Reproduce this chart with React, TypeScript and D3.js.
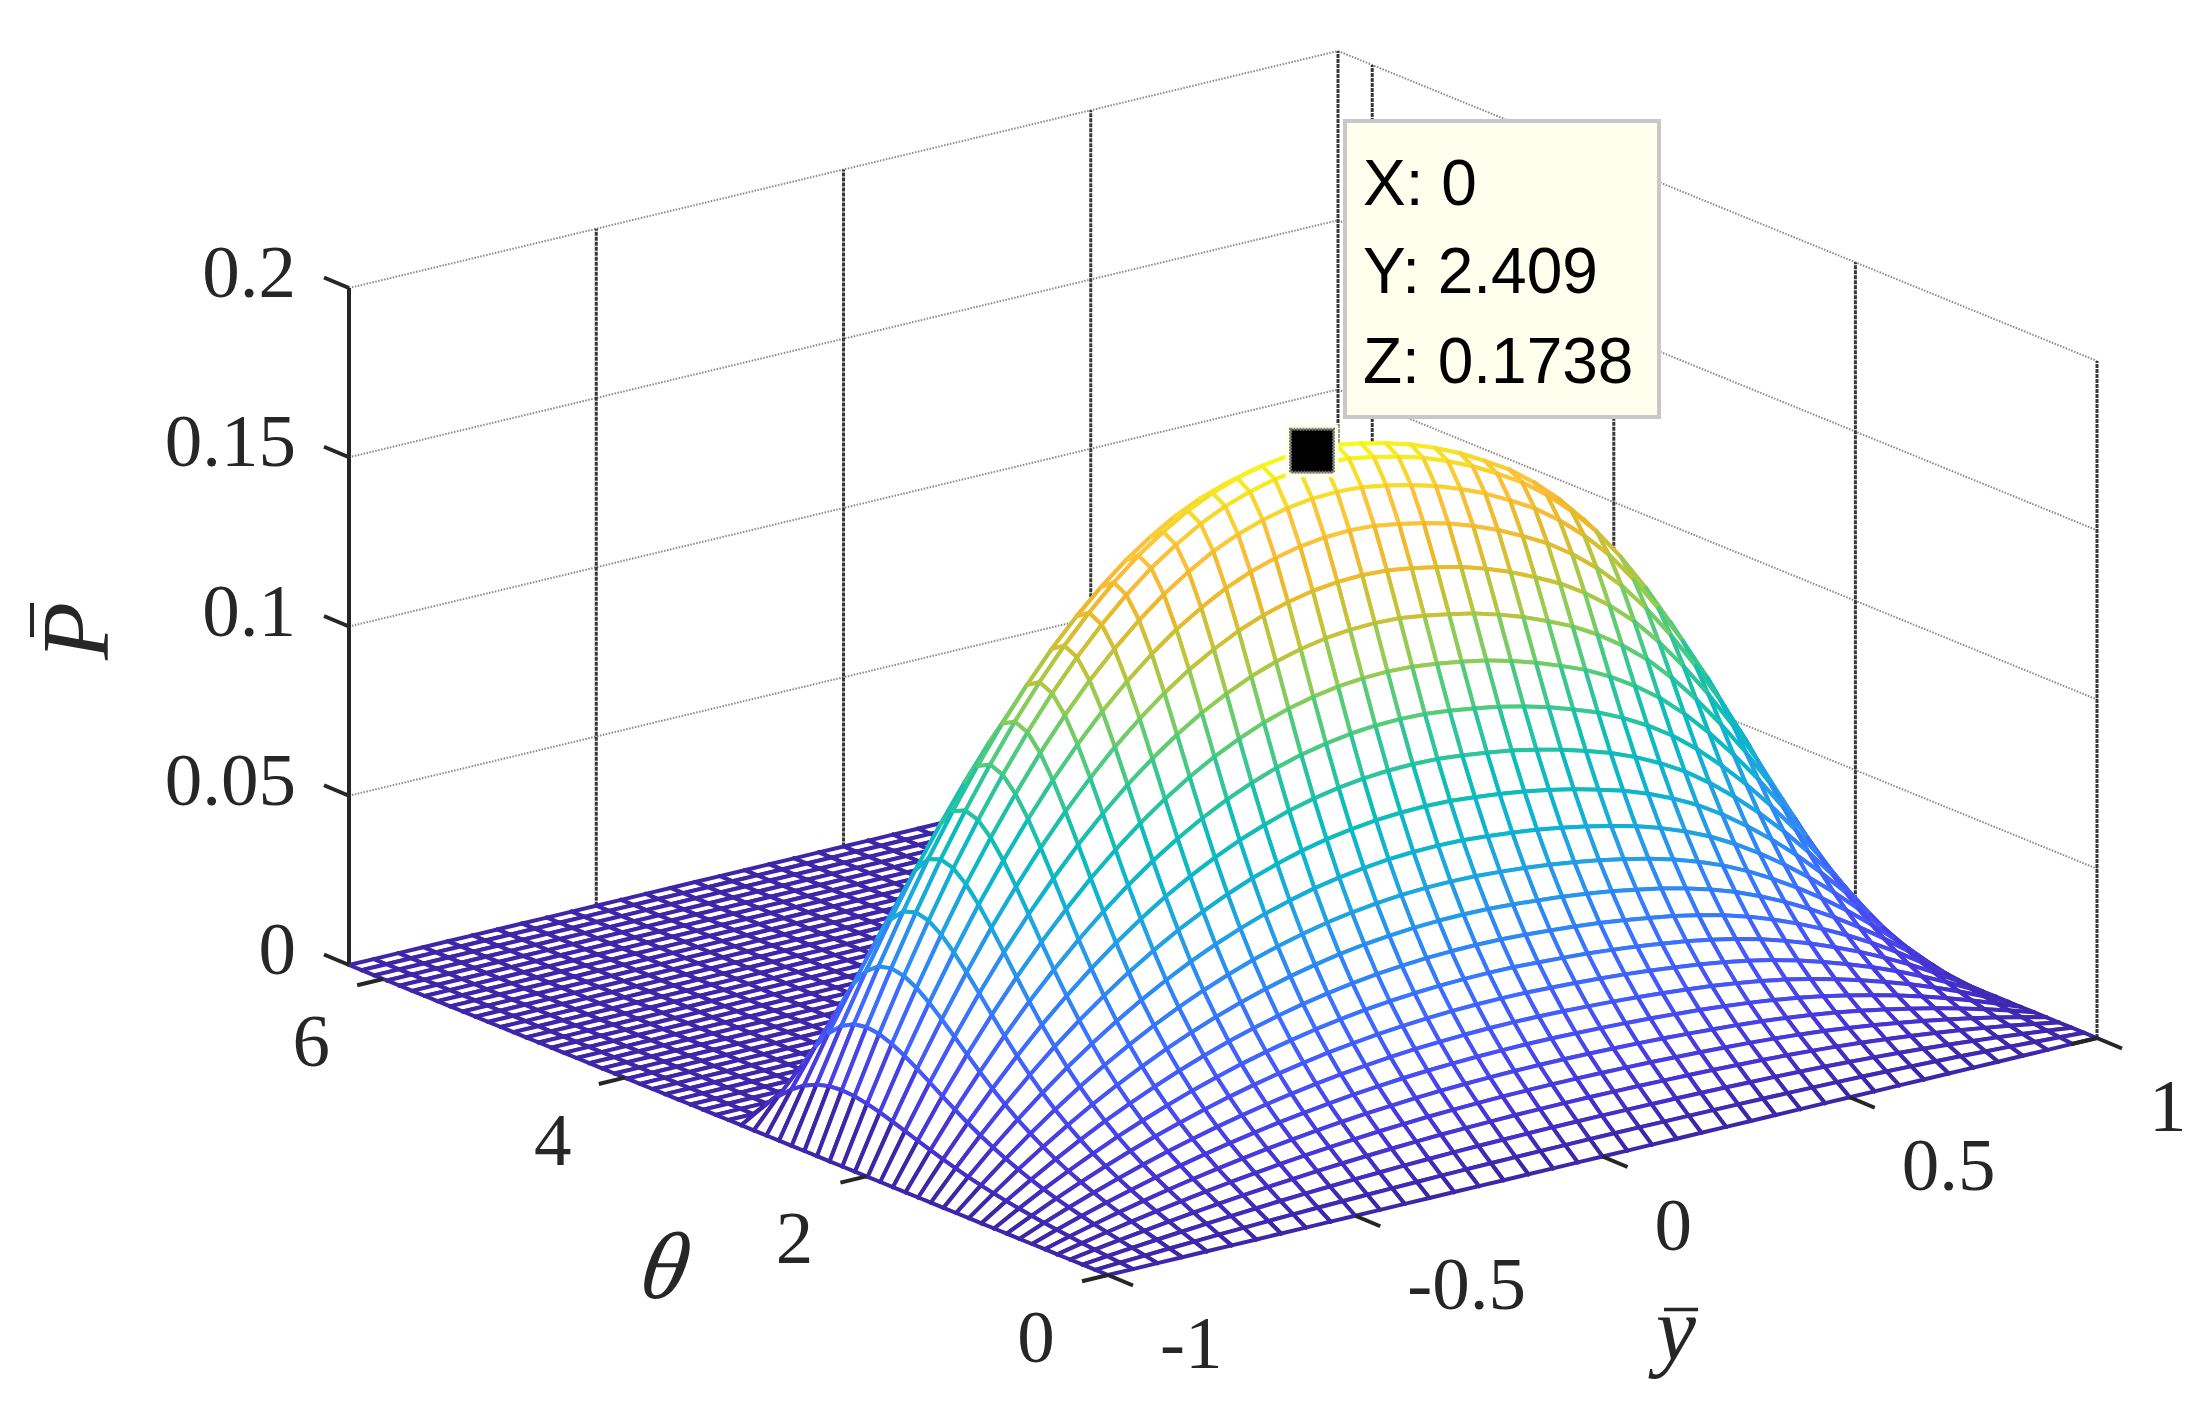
import React, { useEffect, useRef } from "react";
import * as d3 from "d3";

const W = 2211, H = 1422;

const yValues = d3.range(41).map((i) => -1 + i * 0.05);
const thetaStep = Math.PI / 30;
const thetaCount = 61;
// relative pressure across the bearing width, y = -1 .. 1 step 0.05
const yProfile = [0, .102, .199, .289, .374, .454, .527, .595, .658, .715, .767, .813, .854, .89, .92, .946, .966, .981, .992, .998, 1,
  .9975, .99, .98, .968, .952, .933, .91, .885, .853, .815, .77, .715, .652, .582, .505, .42, .327, .226, .117, 0];
// P along y = 0 for theta = 0 .. pi, step pi/30 (zero beyond)
const thetaProfile = [0, .0036, .0073, .0112, .0152, .0194, .024, .029, .0345, .0405, .0472, .0547, .0629, .072, .0821, .093, .1048, .1173,
  .1301, .1427, .1544, .1643, .1713, .1738, .1705, .1601, .1419, .1155, .0818, .0424, 0];
const zTicks = [0, 0.05, 0.1, 0.15, 0.2];
const zTickLabels = ["0", "0.05", "0.1", "0.15", "0.2"];
const yTicks = [-1, -0.5, 0, 0.5, 1];
const yTickLabels = ["-1", "-0.5", "0", "0.5", "1"];
const thetaTicks = [0, 2, 4, 6];
const thetaTickLabels = ["0", "2", "4", "6"];
const dataTipLines = ["X: 0", "Y: 2.409", "Z: 0.1738"];
const tipPoint = { y: 0, theta: 2.409, z: 0.1738 };
const parulaStops = ["#3e26a8", "#4836d8", "#4750f5", "#3e6cff", "#2f87f6", "#24a0e4", "#0eb4d0", "#0dbdb8", "#2fc59a", "#55cc78", "#91cc55", "#c4c338", "#ecb92a", "#fdbd3c", "#f6d92d", "#f9fb15"];

// orthographic projection of the axes box
const front = [1108, 1275], right = [2097, 1038], left = [349, 965];
const zPixels = 677;
const yX = d3.scaleLinear().domain([-1, 1]).range([0, right[0] - front[0]]);
const yY = d3.scaleLinear().domain([-1, 1]).range([0, right[1] - front[1]]);
const tX = d3.scaleLinear().domain([0, 2 * Math.PI]).range([0, left[0] - front[0]]);
const tY = d3.scaleLinear().domain([0, 2 * Math.PI]).range([0, left[1] - front[1]]);
const zS = d3.scaleLinear().domain([0, 0.2]).range([0, zPixels]);
const project = (y: number, t: number, z: number): [number, number] => [
  front[0] + yX(y) + tX(t),
  front[1] + yY(y) + tY(t) - zS(z),
];
const colour = d3.scaleLinear<string>()
  .domain(parulaStops.map((_, i) => (i / (parulaStops.length - 1)) * 0.1738))
  .range(parulaStops).interpolate(d3.interpolateRgb).clamp(true);

const zAt = (i: number, j: number) => yProfile[i] * (j < thetaProfile.length ? thetaProfile[j] : 0);
const line = d3.line();

export default function App() {
  const ref = useRef<SVGGElement>(null);
  useEffect(() => {
    const g = d3.select(ref.current);
    g.selectAll("*").remove();
    const P = (i: number, j: number) => project(yValues[i], j * thetaStep, zAt(i, j));
    for (let i = yValues.length - 2; i >= 0; i--) {
      for (let j = thetaCount - 2; j >= 0; j--) {
        const a = P(i, j), b = P(i + 1, j), c = P(i + 1, j + 1), d = P(i, j + 1);
        g.append("path").attr("d", line([a, b, c, d]) + "Z").attr("fill", "#fff").attr("stroke", "none");
        const seg = (p: [number, number], q: [number, number], v: number) =>
          g.append("path").attr("d", line([p, q])).attr("stroke", colour(v)).attr("stroke-width", 4).attr("fill", "none").attr("stroke-linecap", "round");
        seg(d, c, zAt(i, j + 1));
        seg(b, c, zAt(i + 1, j));
        seg(a, d, zAt(i, j));
        seg(a, b, zAt(i, j));
      }
    }
  }, []);

  const tMax = 2 * Math.PI;
  const serif = "'Liberation Serif', serif";
  const sans = "'Liberation Sans', sans-serif";
  const ink = "#262626";
  const tip = project(tipPoint.y, tipPoint.theta, tipPoint.z);
  const gridLight = { stroke: "#8a8a8a", strokeWidth: 2, strokeDasharray: "1.5 1.5", fill: "none" };
  const gridDark = { stroke: "#383838", strokeWidth: 3, strokeDasharray: "4 1", fill: "none" };
  const L = (p: [number, number], q: [number, number], s: any, k: string) => (
    <line key={k} x1={p[0]} y1={p[1]} x2={q[0]} y2={q[1]} {...s} />
  );
  return (
    <svg width={W} height={H} viewBox={`0 0 ${W} ${H}`} style={{ position: "absolute", left: 0, top: 0, background: "#fff" }}>
      {zTicks.slice(1).map((z) => (
        <g key={z}>
          {L(project(-1, tMax, z), project(1, tMax, z), gridLight, "a")}
          {L(project(1, tMax, z), project(1, 0, z), gridLight, "b")}
        </g>
      ))}
      {yTicks.slice(1).map((y) => L(project(y, tMax, 0), project(y, tMax, 0.2), gridDark, `gy${y}`))}
      {thetaTicks.map((t) => L(project(1, t, 0), project(1, t, 0.2), gridDark, `gt${t}`))}
      {L(project(-1, tMax, 0), project(-1, tMax, 0.2), { stroke: ink, strokeWidth: 4 }, "zaxis")}

      <g ref={ref} />

      {zTicks.map((z, i) => {
        const p = project(-1, tMax, z);
        return (
          <g key={z}>
            {L(p, [p[0] - 25, p[1] - 10.5], { stroke: ink, strokeWidth: 4 }, "t")}
            <text x={296} y={p[1] + 9} textAnchor="end" fontFamily={serif} fontSize={75} fill={ink}>{zTickLabels[i]}</text>
          </g>
        );
      })}
      {yTicks.map((y, i) => {
        const p = project(y, 0, 0);
        return (
          <g key={y}>
            {L(p, [p[0] + 25, p[1] + 10.5], { stroke: ink, strokeWidth: 4 }, "t")}
            <text x={p[0] + 52} y={p[1] + 93} fontFamily={serif} fontSize={75} fill={ink}>{yTickLabels[i]}</text>
          </g>
        );
      })}
      {thetaTicks.map((t, i) => {
        const p = project(-1, t, 0);
        const q = project(1, t, 0);
        return (
          <g key={t}>
            {L(p, [p[0] - 26, p[1] + 6.3], { stroke: ink, strokeWidth: 4 }, "t")}
            {L(q, [q[0] - 26, q[1] + 6.3], { stroke: ink, strokeWidth: 4, opacity: i === 0 ? 1 : 0 }, "u")}
            <text x={p[0] - 72} y={p[1] + 87} textAnchor="middle" fontFamily={serif} fontSize={75} fill={ink}>{thetaTickLabels[i]}</text>
          </g>
        );
      })}

      <text transform="translate(660,1298) skewX(-10)" textAnchor="middle" fontFamily={serif} fontStyle="italic" fontSize={95} fill={ink}>θ</text>
      <text x={1676} y={1360} textAnchor="middle" fontFamily={serif} fontStyle="italic" fontSize={90} fill={ink}>y</text>
      <line x1={1664} x2={1698} y1={1309.5} y2={1309.5} stroke={ink} strokeWidth={3.5} />
      <text transform="translate(108,660) rotate(-90)" fontFamily={serif} fontStyle="italic" fontSize={95} fill={ink}>P</text>
      <line x1={32} x2={32} y1={603} y2={637} stroke={ink} strokeWidth={4} />

      <rect x={tip[0] - 26} y={tip[1] - 25} width={53} height={53} fill="#ffffe6" />
      <rect x={tip[0] - 21} y={tip[1] - 20} width={43} height={43} fill="#000" stroke="#777" strokeWidth={3} strokeDasharray="2 1" />
      <rect x={1345} y={121} width={314} height={296} fill="#ffffee" stroke="#c8c8c8" strokeWidth={4} />
      {dataTipLines.map((s, i) => (
        <text key={s} x={1363} y={[205, 293, 383][i]} fontFamily={sans} fontSize={64} fill="#000">{s}</text>
      ))}
    </svg>
  );
}
